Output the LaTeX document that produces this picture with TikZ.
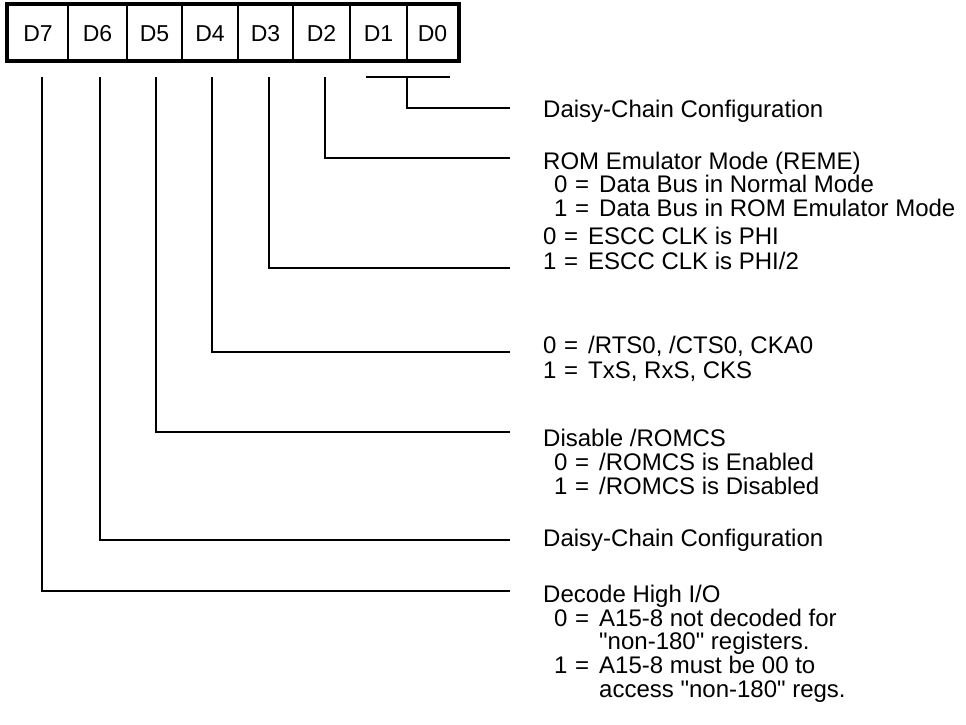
\documentclass[tikz,border=0pt]{standalone}
\usepackage{fontspec}
\setmainfont{Liberation Sans}
\newcommand\myrow[2]{\makebox[21pt][l]{#1}\makebox[24pt][l]{=}#2}
\begin{document}
\begin{tikzpicture}[x=1pt,y=-1pt,
  lbl/.style={anchor=base west,inner sep=0pt,font=\fontsize{24}{26}\selectfont},
  cell/.style={draw,line width=1.6pt,minimum height=55pt,inner sep=0pt,text height=17pt,text depth=0pt,font=\fontsize{23}{25}\selectfont},
  wire/.style={line width=1.5pt}]
\useasboundingbox[fill=white] (0,0) rectangle (966,724);
% register cells
\node[cell,minimum width=60pt] (c7) at (38,32.5) {D7};
\node[cell,minimum width=59pt] (c6) at (97.5,32.5) {D6};
\node[cell,minimum width=55pt] (c5) at (154.5,32.5) {D5};
\node[cell,minimum width=56pt] (c4) at (210,32.5) {D4};
\node[cell,minimum width=55pt] (c3) at (265.5,32.5) {D3};
\node[cell,minimum width=57pt] (c2) at (321.5,32.5) {D2};
\node[cell,minimum width=57pt] (c1) at (378.5,32.5) {D1};
\node[cell,minimum width=51pt] (c0) at (432.5,32.5) {D0};
\draw[line width=3.5pt] (c7.north west) rectangle (c0.south east);
% texts
\node[lbl] (t0) at (543,117) {Daisy-Chain Configuration};
\node[lbl] (t2) at (543,169) {ROM Emulator Mode (REME)};
\node[lbl] (t2a) at (554,192.5) {\myrow{0}{Data Bus in Normal Mode}};
\node[lbl] (t2b) at (554,216) {\myrow{1}{Data Bus in ROM Emulator Mode}};
\node[lbl] (t3) at (543,244) {\myrow{0}{ESCC CLK is PHI}};
\node[lbl] (t3b) at (543,269) {\myrow{1}{ESCC CLK is PHI/2}};
\node[lbl] (t4) at (543,353) {\myrow{0}{/RTS0, /CTS0, CKA0}};
\node[lbl] (t4b) at (543,378) {\myrow{1}{TxS, RxS, CKS}};
\node[lbl] (t5) at (543,446) {Disable /ROMCS};
\node[lbl] (t5a) at (554,470) {\myrow{0}{/ROMCS is Enabled}};
\node[lbl] (t5b) at (554,494) {\myrow{1}{/ROMCS is Disabled}};
\node[lbl] (t6) at (543,546) {Daisy-Chain Configuration};
\node[lbl] (t7) at (543,602) {Decode High I/O};
\node[lbl] (t7a) at (554,626) {\myrow{0}{A15-8 not decoded for}};
\node[lbl] (t7b) at (599,649) {\textquotedbl non-180\textquotedbl\ registers.};
\node[lbl] (t7c) at (554,673) {\myrow{1}{A15-8 must be 00 to}};
\node[lbl] (t7d) at (599,697) {access \textquotedbl non-180\textquotedbl\ regs.};
% connector points
\coordinate (b10l) at (366,77);
\coordinate (b10r) at (450,77);
\coordinate (b10) at (407,77);
\coordinate (e0) at (510,108);
\coordinate (s2) at (325,77);  \coordinate (e2) at (510,158);
\coordinate (s3) at (269,77);  \coordinate (e3) at (510,268);
\coordinate (s4) at (212,77);  \coordinate (e4) at (510,352);
\coordinate (s5) at (156,77);  \coordinate (e5) at (510,432);
\coordinate (s6) at (100,77);  \coordinate (e6) at (510,540);
\coordinate (s7) at (42,77);   \coordinate (e7) at (510,591);
\draw[wire] (b10l) -- (b10r);
\draw[wire] (b10) |- (e0);
\draw[wire] (s2) |- (e2);
\draw[wire] (s3) |- (e3);
\draw[wire] (s4) |- (e4);
\draw[wire] (s5) |- (e5);
\draw[wire] (s6) |- (e6);
\draw[wire] (s7) |- (e7);
\end{tikzpicture}
\end{document}
